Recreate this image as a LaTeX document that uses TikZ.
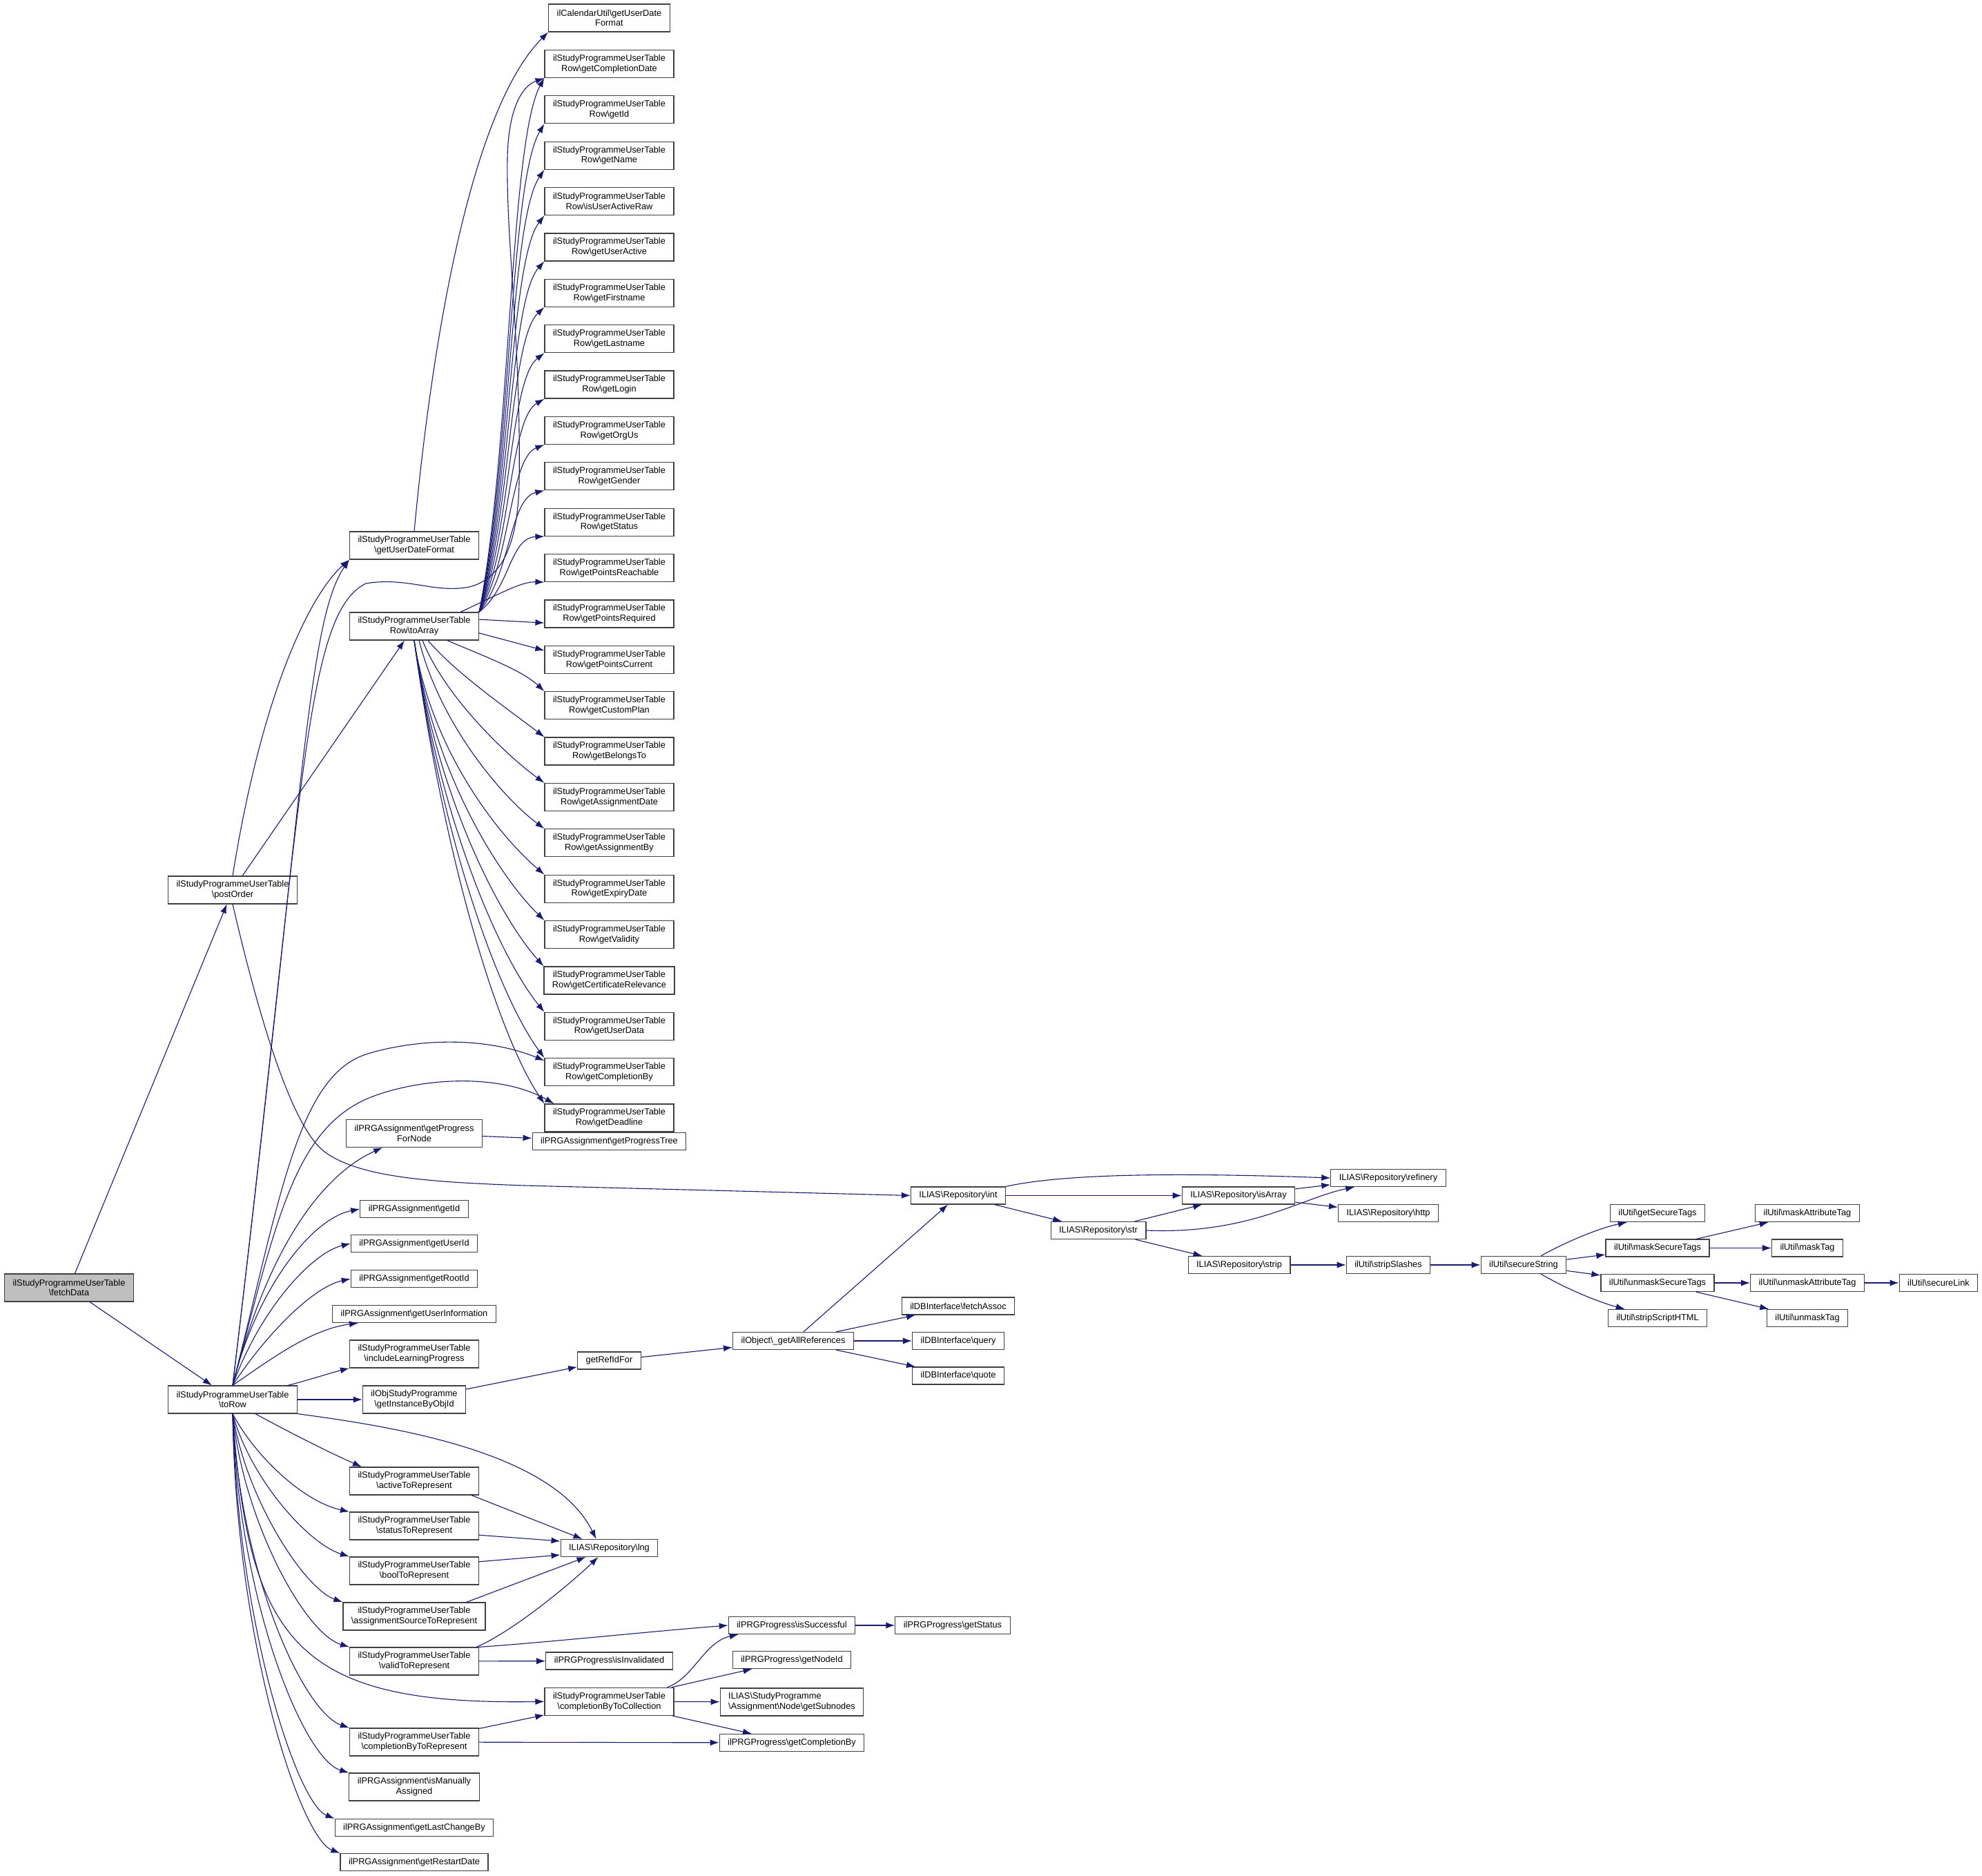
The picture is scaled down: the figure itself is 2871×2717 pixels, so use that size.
\documentclass[tikz,border=0pt]{standalone}
\usepackage{fontspec}
\setmainfont{Liberation Sans}
\usepackage{tikz}
\usetikzlibrary{arrows.meta,positioning,calc}
\definecolor{edgeblue}{HTML}{191970}
\definecolor{boxline}{HTML}{404040}
\definecolor{focus}{HTML}{BFBFBF}
\newcommand{\bksl}{\textbackslash}

\begin{document}
\begin{tikzpicture}[x=0.5pt,y=-0.5pt,>={Latex[length=6.5pt,width=4.6pt]},node distance=12.585pt,
  fn/.style={draw=boxline,line width=0.6pt,fill=white,font=\fontsize{6.4}{7.4}\selectfont,align=center,inner xsep=6pt,inner ysep=0pt,minimum height=12.5pt},
  tall/.style={minimum height=20pt},
  arr/.style={->,draw=edgeblue,line width=0.55pt}]
\useasboundingbox (0,0) rectangle (2871,2717);
\node[fn,tall,fill=focus] (fetch) at (100,1865) {ilStudyProgrammeUserTable\\\bksl fetchData};
\node[fn,tall] (post) at (337,1289) {ilStudyProgrammeUserTable\\\bksl postOrder};
\node[fn,tall] (torow) at (337,2027) {ilStudyProgrammeUserTable\\\bksl toRow};
\node[fn,tall] (udf) at (600,790) {ilStudyProgrammeUserTable\\\bksl getUserDateFormat};
\node[fn,tall] (toarr) at (600,907) {ilStudyProgrammeUserTable\\Row\bksl toArray};
\node[fn,tall] (pfn) at (600,1641.5) {ilPRGAssignment\bksl getProgress\\ForNode};
\node[fn] (aid) at (600,1751) {ilPRGAssignment\bksl getId};
\node[fn] (auid) at (600,1801) {ilPRGAssignment\bksl getUserId};
\node[fn] (arid) at (600,1852) {ilPRGAssignment\bksl getRootId};
\node[fn] (auinf) at (600,1903) {ilPRGAssignment\bksl getUserInformation};
\node[fn,tall] (incl) at (600,1961) {ilStudyProgrammeUserTable\\\bksl includeLearningProgress};
\node[fn,tall] (inst) at (600,2027) {ilObjStudyProgramme\\\bksl getInstanceByObjId};
\node[fn,tall] (actrep) at (600,2145) {ilStudyProgrammeUserTable\\\bksl activeToRepresent};
\node[fn,tall] (statrep) at (600,2210) {ilStudyProgrammeUserTable\\\bksl statusToRepresent};
\node[fn,tall] (boolrep) at (600,2275) {ilStudyProgrammeUserTable\\\bksl boolToRepresent};
\node[fn,tall] (asrcrep) at (600,2341) {ilStudyProgrammeUserTable\\\bksl assignmentSourceToRepresent};
\node[fn,tall] (validrep) at (600,2406) {ilStudyProgrammeUserTable\\\bksl validToRepresent};
\node[fn,tall] (cbrep) at (600,2523) {ilStudyProgrammeUserTable\\\bksl completionByToRepresent};
\node[fn,tall] (manual) at (600,2588) {ilPRGAssignment\bksl isManually\\Assigned};
\node[fn] (lastch) at (600,2647) {ilPRGAssignment\bksl getLastChangeBy};
\node[fn] (restart) at (600,2697) {ilPRGAssignment\bksl getRestartDate};
\node[fn,tall] (cal) at (882.5,26) {ilCalendarUtil\bksl getUserDate\\Format};
\node[fn,tall] (r1) at (882.5,92.5) {ilStudyProgrammeUserTable\\Row\bksl getCompletionDate};
\node[fn,tall,below=of r1] (r2) {ilStudyProgrammeUserTable\\Row\bksl getId};
\node[fn,tall,below=of r2] (r3) {ilStudyProgrammeUserTable\\Row\bksl getName};
\node[fn,tall,below=of r3] (r4) {ilStudyProgrammeUserTable\\Row\bksl isUserActiveRaw};
\node[fn,tall,below=of r4] (r5) {ilStudyProgrammeUserTable\\Row\bksl getUserActive};
\node[fn,tall,below=of r5] (r6) {ilStudyProgrammeUserTable\\Row\bksl getFirstname};
\node[fn,tall,below=of r6] (r7) {ilStudyProgrammeUserTable\\Row\bksl getLastname};
\node[fn,tall,below=of r7] (r8) {ilStudyProgrammeUserTable\\Row\bksl getLogin};
\node[fn,tall,below=of r8] (r9) {ilStudyProgrammeUserTable\\Row\bksl getOrgUs};
\node[fn,tall,below=of r9] (r10) {ilStudyProgrammeUserTable\\Row\bksl getGender};
\node[fn,tall,below=of r10] (r11) {ilStudyProgrammeUserTable\\Row\bksl getStatus};
\node[fn,tall,below=of r11] (r12) {ilStudyProgrammeUserTable\\Row\bksl getPointsReachable};
\node[fn,tall,below=of r12] (r13) {ilStudyProgrammeUserTable\\Row\bksl getPointsRequired};
\node[fn,tall,below=of r13] (r14) {ilStudyProgrammeUserTable\\Row\bksl getPointsCurrent};
\node[fn,tall,below=of r14] (r15) {ilStudyProgrammeUserTable\\Row\bksl getCustomPlan};
\node[fn,tall,below=of r15] (r16) {ilStudyProgrammeUserTable\\Row\bksl getBelongsTo};
\node[fn,tall,below=of r16] (r17) {ilStudyProgrammeUserTable\\Row\bksl getAssignmentDate};
\node[fn,tall,below=of r17] (r18) {ilStudyProgrammeUserTable\\Row\bksl getAssignmentBy};
\node[fn,tall,below=of r18] (r19) {ilStudyProgrammeUserTable\\Row\bksl getExpiryDate};
\node[fn,tall,below=of r19] (r20) {ilStudyProgrammeUserTable\\Row\bksl getValidity};
\node[fn,tall,below=of r20] (r21) {ilStudyProgrammeUserTable\\Row\bksl getCertificateRelevance};
\node[fn,tall,below=of r21] (r22) {ilStudyProgrammeUserTable\\Row\bksl getUserData};
\node[fn,tall,below=of r22] (r23) {ilStudyProgrammeUserTable\\Row\bksl getCompletionBy};
\node[fn,tall,below=of r23] (r24) {ilStudyProgrammeUserTable\\Row\bksl getDeadline};
\node[fn] (ptree) at (882.5,1653) {ilPRGAssignment\bksl getProgressTree};
\node[fn] (refid) at (882.5,1970.5) {getRefIdFor};
\node[fn] (lng) at (882.5,2242) {ILIAS\bksl Repository\bksl lng};
\node[fn] (inval) at (882.5,2405.5) {ilPRGProgress\bksl isInvalidated};
\node[fn,tall] (cbcoll) at (882.5,2464.3) {ilStudyProgrammeUserTable\\\bksl completionByToCollection};
\node[fn] (allref) at (1149,1942) {ilObject\bksl\_getAllReferences};
\node[fn] (succ) at (1147,2354) {ilPRGProgress\bksl isSuccessful};
\node[fn] (nodeid) at (1147,2404) {ilPRGProgress\bksl getNodeId};
\node[fn,tall,align=left] (subn) at (1147,2465) {ILIAS\bksl StudyProgramme\\\bksl Assignment\bksl Node\bksl getSubnodes};
\node[fn] (pcb) at (1147,2524) {ilPRGProgress\bksl getCompletionBy};
\node[fn] (int) at (1388,1731.5) {ILIAS\bksl Repository\bksl int};
\node[fn] (fetchA) at (1388,1891.5) {ilDBInterface\bksl fetchAssoc};
\node[fn] (query) at (1388,1942) {ilDBInterface\bksl query};
\node[fn] (quote) at (1388,1992.5) {ilDBInterface\bksl quote};
\node[fn] (pstatus) at (1380,2354) {ilPRGProgress\bksl getStatus};
\node[fn] (str) at (1591,1782) {ILIAS\bksl Repository\bksl str};
\node[fn] (isarr) at (1794,1731.5) {ILIAS\bksl Repository\bksl isArray};
\node[fn] (strip) at (1795,1832) {ILIAS\bksl Repository\bksl strip};
\node[fn] (refin) at (2011,1706) {ILIAS\bksl Repository\bksl refinery};
\node[fn] (http) at (2011,1757) {ILIAS\bksl Repository\bksl http};
\node[fn] (sslash) at (2011,1832) {ilUtil\bksl stripSlashes};
\node[fn] (secstr) at (2207,1832) {ilUtil\bksl secureString};
\node[fn] (gst) at (2401,1757) {ilUtil\bksl getSecureTags};
\node[fn] (mst) at (2401,1807.5) {ilUtil\bksl maskSecureTags};
\node[fn] (umst) at (2401,1858) {ilUtil\bksl unmaskSecureTags};
\node[fn] (ssh) at (2401,1909) {ilUtil\bksl stripScriptHTML};
\node[fn] (mat) at (2618,1757) {ilUtil\bksl maskAttributeTag};
\node[fn] (mtag) at (2618,1807.5) {ilUtil\bksl maskTag};
\node[fn] (umat) at (2618,1858) {ilUtil\bksl unmaskAttributeTag};
\node[fn] (umtag) at (2618,1909) {ilUtil\bksl unmaskTag};
\node[fn] (slink) at (2808,1858) {ilUtil\bksl secureLink};
\draw[arr] (fetch)--(post);
\draw[arr] (fetch)--(torow);
\draw[arr] (post.north) .. controls (380,1000) and (450,860) .. (udf.south west);
\draw[arr] (post)--(toarr);
\draw[arr] (post.south) .. controls (372,1460) and (420,1630) .. (470,1668) .. controls (520,1705) and (620,1712) .. (760,1717)--(int.west);
\draw[arr] (torow.north) .. controls (440,1150) and (445,900) .. (udf.south west);
\draw[arr] (torow.north) .. controls (440,1150) and (440,890) .. (530,845) .. controls (590,835) and (630,860) .. (680,850) .. controls (720,840) and (750,800) .. (752,700) .. controls (755,500) and (733,350) .. (735,230) .. controls (736,160) and (755,125) .. (r1.south west);
\draw[arr] (torow.north) .. controls (405,1740) and (430,1560) .. (530,1527) .. controls (600,1505) and (700,1500) .. (r23.170);
\draw[arr] (torow.north) .. controls (400,1770) and (425,1640) .. (530,1592) .. controls (600,1562) and (720,1552) .. ($(r24.north west)+(14,0)$);
\draw[arr] (torow.north) .. controls (390,1800) and (470,1700) .. ($(pfn.south west)+(53,0)$);
\draw[arr] (torow.north) .. controls (370,1870) and (450,1765) .. (aid.west);
\draw[arr] (torow.north) .. controls (375,1900) and (450,1815) .. (auid.west);
\draw[arr] (torow.north) .. controls (380,1940) and (450,1865) .. (arid.west);
\draw[arr] (torow.north) .. controls (390,1970) and (450,1925) .. ($(auinf.south west)+(38,0)$);
\draw[arr] ($(torow.north)+(80,0)$) .. controls (450,1998) and (480,1988) .. (incl.south west);
\draw[arr] (torow)--(inst);
\draw[arr] (torow.south east) .. controls (560,2065) and (800,2100) .. ($(lng.north west)+(52,0)$);
\draw[arr] ($(torow.south)+(33,0)$) .. controls (420,2075) and (480,2105) .. ($(actrep.north west)+(18,0)$);
\draw[arr] (torow.south) .. controls (370,2110) and (440,2175) .. (statrep.north west);
\draw[arr] (torow.south) .. controls (362,2140) and (445,2235) .. (boolrep.north west);
\draw[arr] (torow.south) .. controls (356,2170) and (440,2300) .. (asrcrep.north west);
\draw[arr] (torow.south) .. controls (352,2200) and (440,2365) .. (validrep.north west);
\draw[arr] (torow.south) .. controls (360,2380) and (430,2470) .. (cbcoll.west);
\draw[arr] (torow.south) .. controls (348,2280) and (440,2480) .. (cbrep.north west);
\draw[arr] (torow.south) .. controls (346,2320) and (440,2548) .. (manual.north west);
\draw[arr] (torow.south) .. controls (344,2350) and (430,2612) .. (lastch.north west);
\draw[arr] (torow.south) .. controls (342,2380) and (435,2662) .. (restart.north west);
\draw[arr] (udf.north) .. controls (630,450) and (690,150) .. (cal.south west);
\draw[arr] (toarr.north east) .. controls (740,655) and (738,205) .. (r1.south west);
\draw[arr] (toarr.north east) .. controls (740,674) and (738,263) .. (r2.south west);
\draw[arr] (toarr.north east) .. controls (740,694) and (738,320) .. (r3.south west);
\draw[arr] (toarr.north east) .. controls (740,713) and (738,378) .. (r4.south west);
\draw[arr] (toarr.north east) .. controls (740,733) and (738,435) .. (r5.south west);
\draw[arr] (toarr.north east) .. controls (740,752) and (738,492) .. (r6.south west);
\draw[arr] (toarr.north east) .. controls (740,772) and (738,550) .. (r7.south west);
\draw[arr] (toarr.north east) .. controls (740,792) and (738,607) .. (r8.south west);
\draw[arr] (toarr.north east) .. controls (740,811) and (738,664) .. (r9.south west);
\draw[arr] (toarr.north east) .. controls (740,831) and (738,722) .. (r10.south west);
\draw[arr] (toarr.north east) .. controls (740,850) and (738,779) .. (r11.south west);
\draw[arr] ($(toarr.north)+(67,0)$) .. controls (720,862) and (755,842) .. (r12.south west);
\draw[arr] (toarr.6)--(r13.188);
\draw[arr] (toarr.-6)--(r14.172);
\draw[arr] ($(toarr.south)+(48,0)$) .. controls (700,950) and (755,970) .. (r15.north west);
\draw[arr] ($(toarr.south)+(20,0)$) .. controls (660,975) and (740,1030) .. (r16.north west);
\draw[arr] ($(toarr.south)+(12,0)$) .. controls (645,1010) and (735,1095) .. (r17.north west);
\draw[arr] ($(toarr.south)+(7,0)$) .. controls (638,1050) and (728,1155) .. (r18.north west);
\draw[arr] (toarr.south) .. controls (624,1086) and (722,1210) .. (r19.north west);
\draw[arr] (toarr.south) .. controls (628,1119) and (722,1268) .. (r20.north west);
\draw[arr] (toarr.south) .. controls (632,1151) and (722,1326) .. (r21.north west);
\draw[arr] (toarr.south) .. controls (636,1184) and (722,1384) .. (r22.north west);
\draw[arr] (toarr.south) .. controls (640,1217) and (722,1442) .. (r23.north west);
\draw[arr] (toarr.south) .. controls (644,1249) and (722,1500) .. (r24.north west);
\draw[arr] (pfn)--(ptree);
\draw[arr] (inst)--(refid);
\draw[arr] (refid)--(allref);
\draw[arr] (allref)--(int);
\draw[arr] (allref)--(fetchA);
\draw[arr] (allref)--(query);
\draw[arr] (allref)--(quote);
\draw[arr] ($(actrep.south)+(83,0)$)--($(lng.north west)+(32,0)$);
\draw[arr] (statrep.-8)--(lng.172);
\draw[arr] (boolrep.8)--(lng.188);
\draw[arr] ($(asrcrep.north east)+(-28,0)$)--($(lng.south west)+(37,0)$);
\draw[arr] ($(validrep.north east)+(-4,0)$) .. controls (745,2362) and (830,2290) .. ($(lng.south west)+(55,0)$);
\draw[arr] (validrep.north east) .. controls (800,2378) and (950,2362) .. (succ.west);
\draw[arr] (validrep)--(inval);
\draw[arr] (cbrep)--(cbcoll);
\draw[arr] (cbrep)--(pcb);
\draw[arr] ($(cbcoll.north east)+(-10,0)$) .. controls (1005,2430) and (1020,2378) .. ($(succ.south west)+(15,0)$);
\draw[arr] (cbcoll)--(nodeid);
\draw[arr] (cbcoll)--(subn);
\draw[arr] (cbcoll)--(pcb);
\draw[arr] (succ)--(pstatus);
\draw[arr] (int.north east) .. controls (1540,1700) and (1700,1698) .. (refin.west);
\draw[arr] (int)--(isarr);
\draw[arr] (int)--(str);
\draw[arr] (str)--(isarr);
\draw[arr] (str)--(strip);
\draw[arr] (str.east) .. controls (1810,1788) and (1885,1735) .. ($(refin.south west)+(35,0)$);
\draw[arr] (isarr)--(refin);
\draw[arr] (isarr)--(http);
\draw[arr] (strip)--(sslash);
\draw[arr] (sslash)--(secstr);
\draw[arr] ($(secstr.north)+(25,0)$) .. controls (2275,1795) and (2320,1778) .. ($(gst.south west)+(25,0)$);
\draw[arr] (secstr)--(mst);
\draw[arr] (secstr)--(umst);
\draw[arr] ($(secstr.south)+(25,0)$) .. controls (2275,1870) and (2320,1887) .. ($(ssh.north west)+(25,0)$);
\draw[arr] (mst)--(mat);
\draw[arr] (mst)--(mtag);
\draw[arr] (umst)--(umat);
\draw[arr] (umst)--(umtag);
\draw[arr] (umat)--(slink);
\end{tikzpicture}
\end{document}
